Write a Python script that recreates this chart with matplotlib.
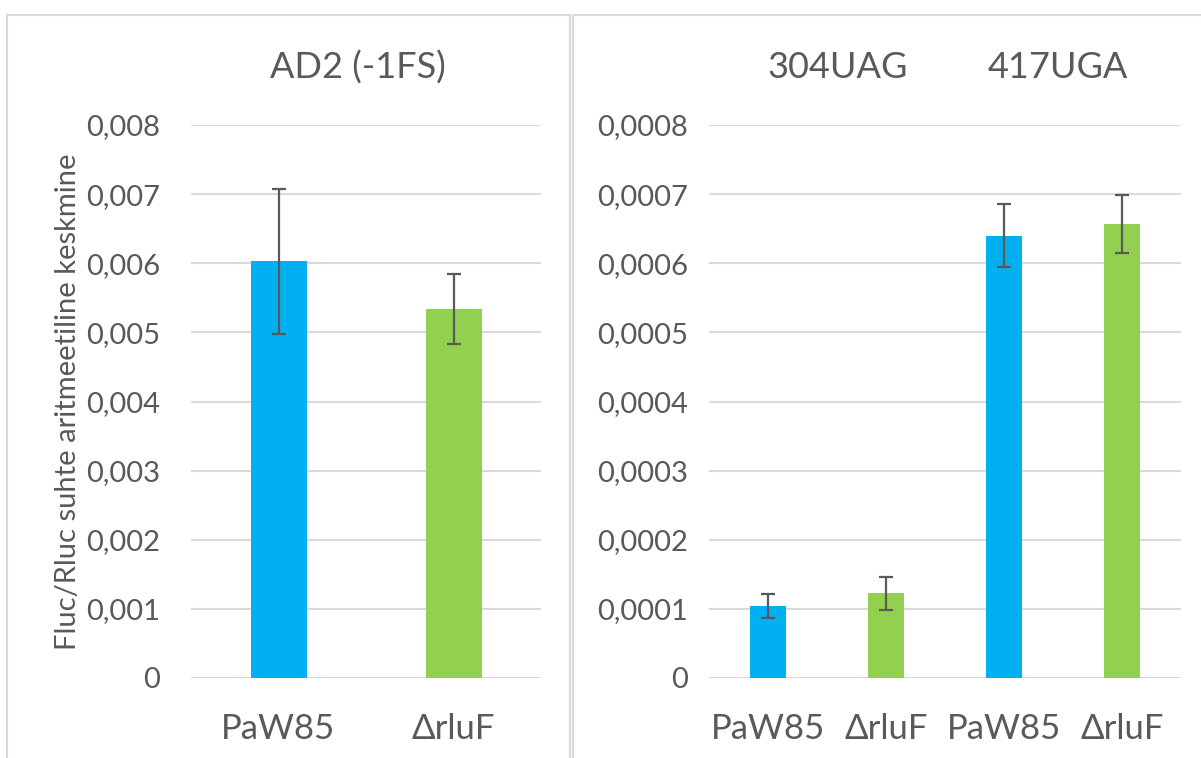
import matplotlib
matplotlib.use("Agg")
import matplotlib.pyplot as plt
from matplotlib.patches import Rectangle
from matplotlib.ticker import FuncFormatter

plt.rcParams['font.family'] = ['Lato', 'Open Sans', 'DejaVu Sans']

# Data
left_categories = ["PaW85", "ΔrluF"]
left_values = [0.00603, 0.00534]
left_errors = [0.00105, 0.00051]

right_categories = ["PaW85", "ΔrluF", "PaW85", "ΔrluF"]
right_values = [0.000104, 0.0001226, 0.000640, 0.000657]
right_errors = [0.000017, 0.000024, 0.000045, 0.000042]

left_title = "AD2 (-1FS)"
right_groups = ["304UAG", "417UGA"]
ylabel = "Fluc/Rluc suhte aritmeetiline keskmine"

left_ticks = [0, 0.001, 0.002, 0.003, 0.004, 0.005, 0.006, 0.007, 0.008]
right_ticks = [0, 0.0001, 0.0002, 0.0003, 0.0004, 0.0005, 0.0006, 0.0007, 0.0008]

BLUE = "#00B0F0"
GREEN = "#92D050"
TEXT = "#595959"
GRID = "#D9D9D9"
colors = [BLUE, GREEN, BLUE, GREEN]

W, H = 1201, 758
fig = plt.figure(figsize=(W / 100, H / 100), dpi=100)

# panel borders
fig.patches.append(Rectangle((7 / W, -0.1), (570 - 7) / W, 1 - 15 / H + 0.1,
                             transform=fig.transFigure, fill=False, edgecolor=GRID, lw=1.5))
fig.patches.append(Rectangle((573 / W, -0.1), 0.6, 1 - 15 / H + 0.1,
                             transform=fig.transFigure, fill=False, edgecolor=GRID, lw=1.5))

bottom = 1 - 678 / H
height = (678 - 125) / H
axL = fig.add_axes([191 / W, bottom, 350 / W, height])
axR = fig.add_axes([709 / W, bottom, 472 / W, height])


def fmt(decimals):
    def f(v, pos):
        if abs(v) < 1e-12:
            return "0"
        return f"{v:.{decimals}f}".replace(".", ",")
    return FuncFormatter(f)


def style(ax, ticks, ymax, decimals, ypad):
    ax.set_ylim(0, ymax)
    ax.set_yticks(ticks)
    ax.yaxis.set_major_formatter(fmt(decimals))
    for s in ax.spines.values():
        s.set_visible(False)
    ax.grid(axis='y', color=GRID, lw=1.5)
    ax.set_axisbelow(True)
    ax.tick_params(axis='y', length=0, pad=ypad, labelsize=21, labelcolor=TEXT)
    ax.tick_params(axis='x', length=0, pad=25, labelsize=25, labelcolor=TEXT)


xl = range(len(left_categories))
axL.bar(xl, left_values, width=0.32, color=[BLUE, GREEN], zorder=2)
axL.errorbar(xl, left_values, yerr=left_errors, fmt='none', ecolor=TEXT,
             elinewidth=1.6, capsize=5, capthick=1.6, zorder=3)
axL.set_xlim(-0.5, len(left_categories) - 0.5)
axL.set_xticks(list(xl))
axL.set_xticklabels(left_categories)
style(axL, left_ticks, 0.008, 3, 22)
axL.set_ylabel(ylabel, fontsize=21, color=TEXT, labelpad=4)

xr = range(len(right_categories))
axR.bar(xr, right_values, width=0.31, color=colors, zorder=2)
axR.errorbar(xr, right_values, yerr=right_errors, fmt='none', ecolor=TEXT,
             elinewidth=1.6, capsize=5, capthick=1.6, zorder=3)
axR.set_xlim(-0.5, len(right_categories) - 0.5)
axR.set_xticks(list(xr))
axR.set_xticklabels(right_categories)
style(axR, right_ticks, 0.0008, 4, 15)

fig.text(358 / W, 1 - 68 / H, left_title, ha='center', va='center', fontsize=26, color=TEXT)
fig.text(838 / W, 1 - 68 / H, right_groups[0], ha='center', va='center', fontsize=26, color=TEXT)
fig.text(1058 / W, 1 - 68 / H, right_groups[1], ha='center', va='center', fontsize=26, color=TEXT)

fig.savefig("out.png", dpi=100, facecolor="white")
